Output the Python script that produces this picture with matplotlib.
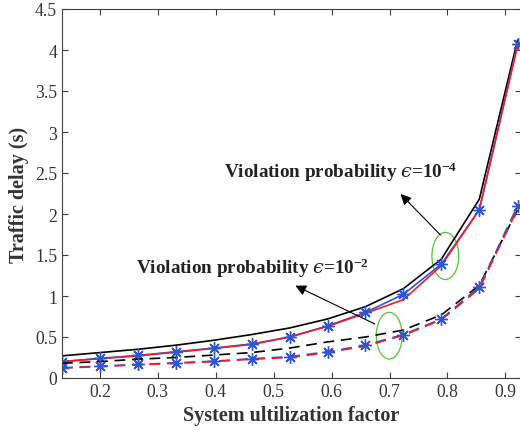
import matplotlib
matplotlib.use("Agg")
import matplotlib.pyplot as plt
from matplotlib.patches import Ellipse
import numpy as np

plt.rcParams['font.family'] = ['Liberation Serif', 'DejaVu Serif']
plt.rcParams['mathtext.fontset'] = 'custom'
plt.rcParams['mathtext.rm'] = 'Liberation Serif'
plt.rcParams['mathtext.it'] = 'DejaVu Serif:italic'
plt.rcParams['mathtext.bf'] = 'Liberation Serif:bold'

# utilization factor samples
x = [0.1345, 0.200, 0.2655, 0.331, 0.3965, 0.462, 0.5275, 0.593, 0.6585,
     0.724, 0.7895, 0.855, 0.921]

# epsilon = 1e-4 (solid)
black_solid = [0.27, 0.31, 0.35, 0.40, 0.46, 0.53, 0.61, 0.72, 0.87, 1.09, 1.45, 2.18, 4.12]
red_solid   = [0.20, 0.235, 0.27, 0.315, 0.36, 0.41, 0.50, 0.63, 0.79, 0.955, 1.37, 2.05, 4.05]
blue_solid  = [0.20, 0.24, 0.275, 0.32, 0.365, 0.415, 0.50, 0.635, 0.80, 1.02, 1.39, 2.05, 4.07]

# epsilon = 1e-2 (dashed)
black_dash = [0.18, 0.20, 0.23, 0.25, 0.28, 0.31, 0.365, 0.44, 0.50, 0.585, 0.77, 1.13, 2.05]
red_dash   = [0.12, 0.14, 0.16, 0.18, 0.20, 0.23, 0.25, 0.31, 0.39, 0.52, 0.71, 1.09, 2.06]
blue_dash  = [0.125, 0.145, 0.165, 0.185, 0.205, 0.235, 0.26, 0.32, 0.40, 0.53, 0.72, 1.11, 2.10]

xticks = [0.2, 0.3, 0.4, 0.5, 0.6, 0.7, 0.8, 0.9]
yticks = [0, 0.5, 1, 1.5, 2, 2.5, 3, 3.5, 4, 4.5]
ytick_labels = ['0', '0.5', '1', '1.5', '2', '2.5', '3', '3.5', '4', '4.5']

fig = plt.figure(figsize=(5.2, 4.39), dpi=100)
ax = fig.add_axes([62/520, 1-379/439, (521-62)/520, (379-10)/439])

blue = '#2f55d4'
red = '#ee1c25'
lw = 1.2
ax.plot(x, black_solid, color='black', lw=lw)
ax.plot(x, blue_solid, color=blue, lw=lw)
ax.plot(x, red_solid, color=red, lw=lw)
ax.plot(x, blue_solid, color=blue, lw=0, marker=(8, 2, 0), ms=9, mew=1.0)

ax.plot(x, black_dash, color='black', lw=lw, dashes=(6.5, 4))
ax.plot(x, blue_dash, color=blue, lw=lw, dashes=(6.5, 4))
ax.plot(x, red_dash, color=red, lw=lw, dashes=(6.5, 4))
ax.plot(x, blue_dash, color=blue, lw=0, marker=(8, 2, 0), ms=9, mew=1.0)

ax.set_xlim(0.1345, 0.927)
ax.set_ylim(0, 4.5)
ax.set_xticks(xticks)
ax.set_xticklabels([f'{t:g}' for t in xticks])
ax.set_yticks(yticks)
ax.set_yticklabels(ytick_labels)

axcol = '#404040'
for s in ax.spines.values():
    s.set_color(axcol)
    s.set_linewidth(0.8)
ax.tick_params(direction='in', length=4, width=0.8, colors=axcol,
               labelcolor='#333333', labelsize=12.7, top=True, right=True)

ax.set_xlabel('System ultilization factor', fontsize=14.5, fontweight='bold',
              color='#333333', labelpad=4)
ax.set_ylabel('Traffic delay (s)', fontsize=14.5, fontweight='bold',
              color='#333333', labelpad=4)

eps = '$\u03f5$'
ax.text(0.4144, 2.45, 'Violation probability ' + eps + r'=10$\mathbf{^{-4}}$',
        fontsize=13.8, fontweight='bold', color='#222222', ha='left', va='baseline')
ax.text(0.263, 1.28, 'Violation probability ' + eps + r'=10$\mathbf{^{-2}}$',
        fontsize=13.8, fontweight='bold', color='#222222', ha='left', va='baseline')

ax.add_patch(Ellipse((0.7964, 1.488), 0.0463, 0.575, fill=False,
                     edgecolor='#55c232', lw=0.9))
ax.add_patch(Ellipse((0.6995, 0.516), 0.0446, 0.57, fill=False,
                     edgecolor='#55c232', lw=0.9))

ax.annotate('', xy=(0.719, 2.244), xytext=(0.788, 1.744),
            arrowprops=dict(arrowstyle='-|>', color='black', lw=0.8,
                            mutation_scale=16, shrinkA=0, shrinkB=0))
ax.annotate('', xy=(0.5374, 1.126), xytext=(0.6746, 0.659),
            arrowprops=dict(arrowstyle='-|>', color='black', lw=0.8,
                            mutation_scale=16, shrinkA=0, shrinkB=0))

fig.savefig('out.png', dpi=100)
